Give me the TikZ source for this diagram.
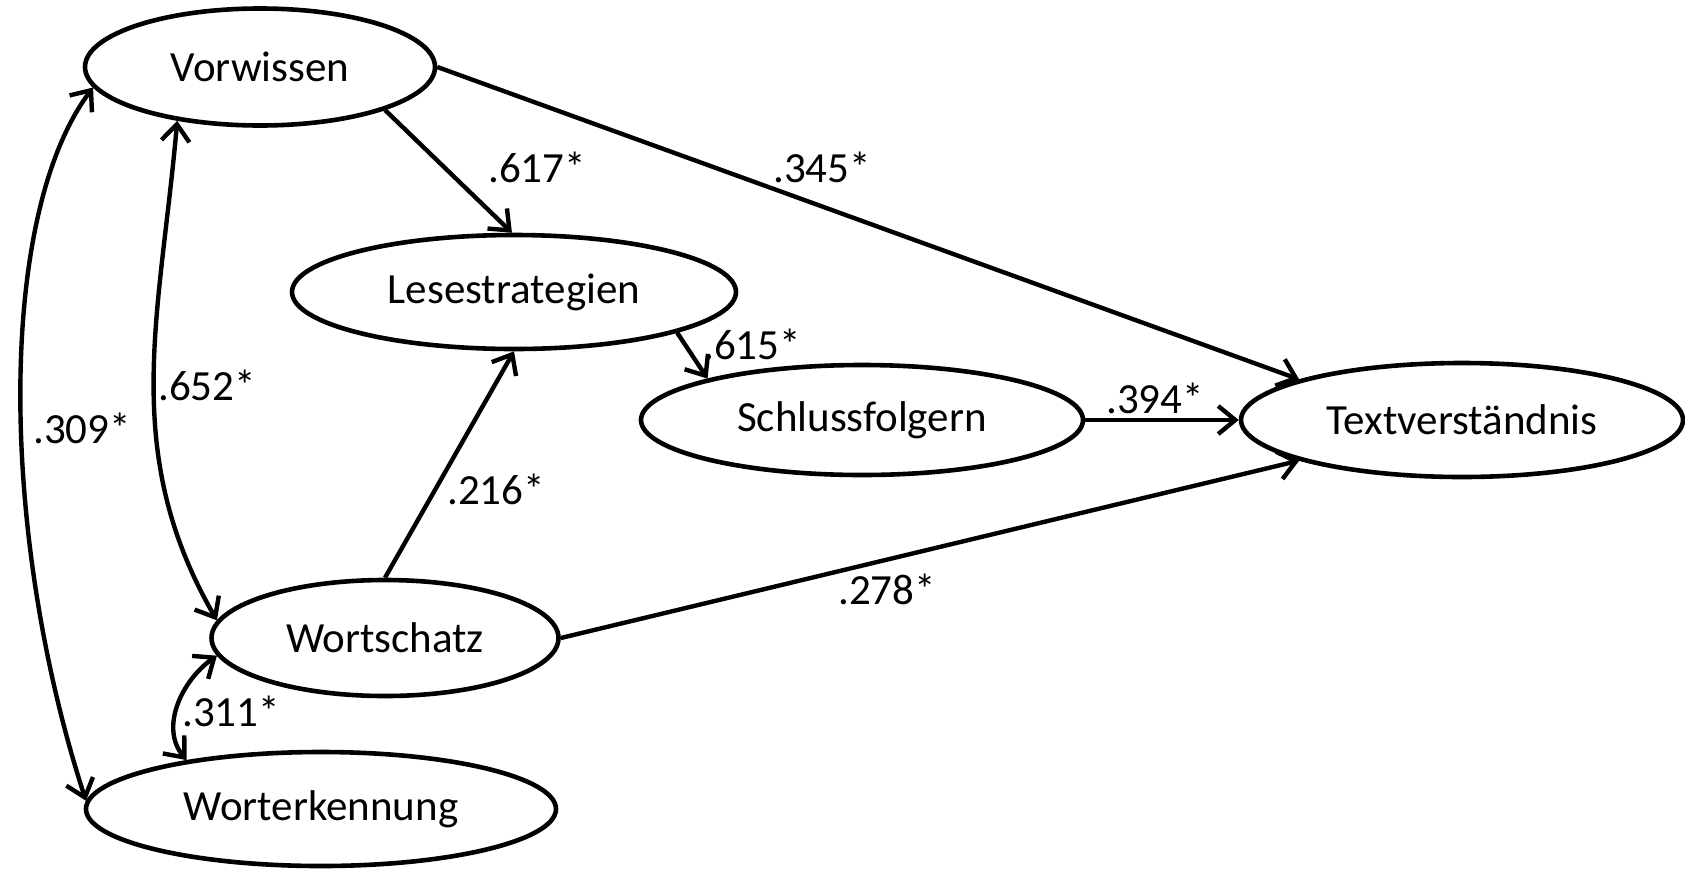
\documentclass[tikz,border=0pt]{standalone}
\usepackage{fontspec}
\setmainfont{Carlito}
\usetikzlibrary{shapes.geometric,arrows.meta}
\begin{document}
\begin{tikzpicture}[x=0.5pt,y=0.5pt,
  latent/.style={ellipse,draw,line width=2.3pt,inner sep=0pt,
    font=\fontsize{21.5}{24}\selectfont},
  coef/.style={inner sep=0pt,font=\fontsize{21.5}{24}\selectfont},
  barb/.tip={Straight Barb[length=8.5pt,width=14pt,line width=2.2pt]},
  effect/.style={line width=2.2pt,-barb},
  corr/.style={line width=2.2pt,barb-barb}]
\useasboundingbox (0,0) rectangle (1685,-873);

% latent variables
\node[latent,minimum width=175pt,minimum height=58.5pt] (V)  at (260,-67)  {Vorwissen};
\node[latent,minimum width=222pt,minimum height=57pt]   (L)  at (514,-292) {Lesestrategien};
\node[latent,minimum width=221pt,minimum height=55pt]   (S)  at (862,-420) {Schlussfolgern};
\node[latent,minimum width=221pt,minimum height=57pt]   (T)  at (1462,-420) {Textverständnis};
\node[latent,minimum width=173.5pt,minimum height=58pt] (Wz) at (385,-638) {Wortschatz};
\node[latent,minimum width=235pt,minimum height=57pt]   (We) at (321,-809) {Worterkennung};

% directed paths
\draw[effect] (V.-19) -- (L.92);
\draw[effect] (V.east) -- (T.166);
\draw[effect] (L.-14.5) -- (S.165);
\draw[effect] (S.east) -- (T.west);
\draw[effect] (Wz.north) -- (L.south);
\draw[effect] (Wz.east) -- (T.194);

% correlations
\draw[corr] (V.187) .. controls +(233:160) and +(108:280) .. (We.178);
\draw[corr] (V.213) to[out=265,in=120] (Wz.174);
\draw[corr] (Wz.186) to[out=215,in=130] (We.160);

% coefficients
\node[coef] (c1) at (537,-167) {.617*};
\node[coef] (c2) at (822,-167) {.345*};
\node[coef] (c3) at (752,-344) {.615*};
\node[coef] (c4) at (207,-385) {.652*};
\node[coef] (c5) at (82,-428)  {.309*};
\node[coef] (c6) at (1155,-398) {.394*};
\node[coef] (c7) at (496,-489) {.216*};
\node[coef] (c8) at (887,-589) {.278*};
\node[coef] (c9) at (231,-711) {.311*};
\end{tikzpicture}
\end{document}
